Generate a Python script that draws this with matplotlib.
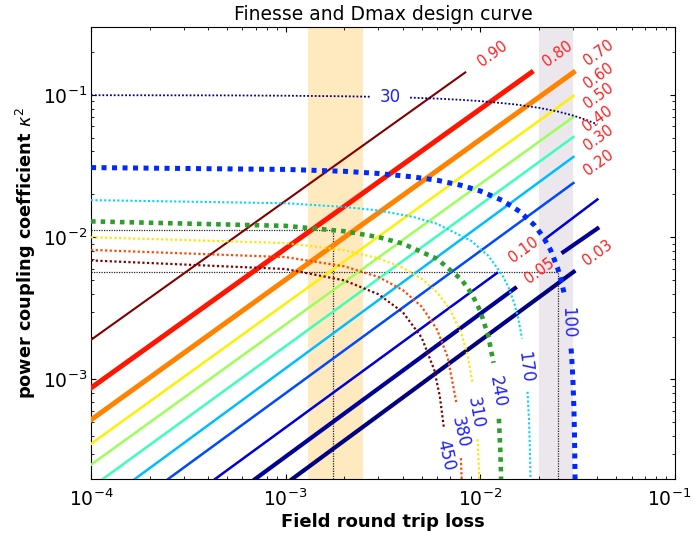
import numpy as np
import matplotlib
matplotlib.use('Agg')
from matplotlib import pyplot as plt
from matplotlib import cm
from matplotlib.transforms import ScaledTranslation

nan = np.nan

# Dmax contour lines : power coupling (kappa^2) vs field round trip loss
dmax_levels = [0.90, 0.80, 0.70, 0.60, 0.50, 0.40, 0.30, 0.20, 0.10, 0.05, 0.03]
dmax_x = [
    [1e-4, 8.37e-3],
    [1e-4, 1.83e-2],
    [1e-4, 3.01e-2],
    [1e-4, 3.01e-2],
    [1e-4, 3.01e-2],
    [1.15e-4, 3.01e-2],
    [1.68e-4, 3.01e-2],
    [2.49e-4, 3.01e-2],
    [4.34e-4, 1.22e-2, nan, 2.15e-2, 4.0e-2],
    [6.97e-4, 1.51e-2, nan, 2.67e-2, 4.0e-2],
    [1.08e-3, 3.02e-2],
]
dmax_y = [
    [1.90e-3, 0.1435],
    [8.73e-4, 0.1435],
    [5.21e-4, 0.1435],
    [3.53e-4, 0.098],
    [2.52e-4, 0.0699],
    [2.0e-4, 0.0505],
    [2.0e-4, 0.0366],
    [2.0e-4, 0.0240],
    [2.0e-4, 5.6e-3, nan, 9.7e-3, 1.84e-2],
    [2.0e-4, 4.38e-3, nan, 7.85e-3, 1.15e-2],
    [2.0e-4, 5.71e-3],
]

# Finesse contour lines (gaps = inline labels)
finesse_levels = [30, 100, 170, 240, 310, 380, 450]
finesse_x = [
    [1e-4, 5e-4, 1e-3, 2e-3, 2.72e-3, nan, 4.36e-3, 6e-3, 8e-3, 1e-2, 1.5e-2, 2e-2, 2.5e-2, 3e-2, 3.5e-2, 4e-2],
    [1e-4, 1e-3, 2e-3, 3e-3, 4.5e-3, 6e-3, 8e-3, 1e-2, 1.3e-2, 1.6e-2, 1.9e-2, 2.1e-2, 2.3e-2, 2.5e-2, 2.6e-2, 2.7e-2,
     nan, 2.93e-2, 2.97e-2, 3.0e-2, 3.03e-2, 3.05e-2, 3.07e-2, 3.08e-2],
    [1e-4, 1e-3, 2e-3, 3e-3, 4.5e-3, 6e-3, 9e-3, 1.1e-2, 1.3e-2, 1.4e-2, 1.5e-2, 1.57e-2, 1.64e-2,
     nan, 1.75e-2, 1.78e-2, 1.80e-2, 1.81e-2, 1.82e-2],
    [1e-4, 1e-3, 2e-3, 3e-3, 4e-3, 6e-3, 8e-3, 9e-3, 1.0e-2, 1.1e-2, 1.17e-2, nan, 1.247e-2, 1.27e-2, 1.28e-2, 1.29e-2],
    [1e-4, 1e-3, 2e-3, 3e-3, 4e-3, 5e-3, 6e-3, 7e-3, 8e-3, 8.6e-3, 9.14e-3, nan, 9.7e-3, 9.85e-3, 9.95e-3],
    [1e-4, 1e-3, 2e-3, 3e-3, 4e-3, 5e-3, 6e-3, 6.8e-3, 7.55e-3, nan, 7.95e-3, 8.05e-3, 8.15e-3],
    [1e-4, 1e-3, 2e-3, 3e-3, 4e-3, 5e-3, 5.8e-3, 6.2e-3, 6.5e-3],
]
finesse_y = [
    [0.0993, 0.0990, 0.0985, 0.0976, 0.0969, nan, 0.0955, 0.0940, 0.0921, 0.0903, 0.0857, 0.0810, 0.0763, 0.0715, 0.0667, 0.0619],
    [0.0308, 0.0299, 0.0290, 0.0280, 0.0265, 0.0251, 0.0231, 0.0211, 0.0181, 0.0151, 0.0121, 0.0101, 0.0081, 0.00605, 0.00503, 0.00401,
     nan, 1.65e-3, 1.24e-3, 9.3e-4, 6.2e-4, 4.1e-4, 2.1e-4, 1.0e-4],
    [0.0182, 0.0173, 0.0163, 0.0154, 0.0139, 0.0124, 0.0094, 0.0074, 0.0054, 0.0044, 0.0034, 0.00265, 0.00194,
     nan, 8.2e-4, 5.2e-4, 3.2e-4, 2.2e-4, 1.1e-4],
    [0.0129, 0.0120, 0.0110, 0.0100, 0.0090, 0.00704, 0.00504, 0.00404, 0.00303, 0.00202, 0.00131, nan, 5.3e-4, 3.0e-4, 2.0e-4, 1.0e-4],
    [0.00998, 0.00909, 0.00810, 0.00710, 0.00610, 0.00510, 0.00410, 0.00310, 0.00210, 0.00149, 9.4e-4, nan, 3.8e-4, 2.3e-4, 1.3e-4],
    [0.00813, 0.00724, 0.00624, 0.00525, 0.00425, 0.00325, 0.00224, 0.00144, 6.8e-4, nan, 2.8e-4, 1.8e-4, 8e-5],
    [0.00686, 0.00597, 0.00497, 0.00397, 0.00297, 0.00197, 0.00117, 7.6e-4, 4.6e-4],
]

# design points (loss, kappa^2)
design_loss = [1.75e-3, 2.52e-2]
design_kappa2 = [1.12e-2, 5.65e-3]

# highlighted loss bands
band_low = [1.3e-3, 2.5e-3]
band_high = [2.0e-2, 3.0e-2]

# label positions
dmax_lab_x = [0.01153, 0.0249, 0.0405, 0.0405, 0.0405, 0.0403, 0.0405, 0.0405, 0.01664, 0.0201, 0.0400]
dmax_lab_y = [0.195, 0.195, 0.198, 0.137, 0.099, 0.0684, 0.0495, 0.0336, 8.1e-3, 5.78e-3, 7.72e-3]
fin_lab_x = [3.44e-3, 0.0283, 0.0170, 0.01222, 9.4e-3, 7.88e-3, 6.61e-3]
fin_lab_y = [0.0958, 2.49e-3, 1.22e-3, 8.18e-4, 5.83e-4, 4.23e-4, 2.96e-4]
fin_lab_rot = [0, -88, -83, -80, -80, -77, -77]

x_ticks = [1e-4, 1e-3, 1e-2, 1e-1]

dmax_lw = [1.5, 3.6, 3.6, 1.8, 1.8, 1.8, 1.8, 1.8, 1.8, 3.0, 3.0]
fin_lw = [1.3, 3.6, 1.5, 3.3, 1.6, 1.6, 1.6]

fig = plt.figure(figsize=(6.95, 5.37), dpi=100)
ax = fig.add_axes([0.131, 0.108, 0.840, 0.842])
ax.set_xscale('log')
ax.set_yscale('log')

ax.axvspan(band_low[0], band_low[1], color='#ffe9bf', zorder=0, lw=0)
ax.axvspan(band_high[0], band_high[1], color='#ebe7ec', zorder=0, lw=0)

# Dmax lines
norm_d = plt.Normalize(min(dmax_levels), max(dmax_levels))
for lev, xs, ys, lw in zip(dmax_levels, dmax_x, dmax_y, dmax_lw):
    ax.plot(xs, ys, color=cm.jet(norm_d(lev)), lw=lw, zorder=3)
for lev, lx, ly in zip(dmax_levels, dmax_lab_x, dmax_lab_y):
    ax.text(lx, ly, '%.2f' % lev, color='#ff2020', fontsize=10.5, rotation=36,
            ha='center', va='center', rotation_mode='anchor', zorder=5)

# Finesse curves
norm_f = plt.Normalize(min(finesse_levels), max(finesse_levels))
for lev, xs, ys, lw in zip(finesse_levels, finesse_x, finesse_y, fin_lw):
    c = cm.jet(norm_f(lev))
    if lev == 240:
        c = '#2e9e2e'
    ax.plot(xs, ys, color=c, lw=lw, linestyle=(0, (1, 1.1)), zorder=4)
for lev, lx, ly, rot in zip(finesse_levels, fin_lab_x, fin_lab_y, fin_lab_rot):
    ax.text(lx, ly, '%d' % lev, color='#2020ff', fontsize=12, rotation=rot,
            ha='center', va='center', rotation_mode='anchor', zorder=5)

# design point guide lines
for lx, ky in zip(design_loss, design_kappa2):
    ax.plot([1e-4, lx], [ky, ky], color='0.15', lw=0.9, linestyle=(0, (1, 1)), zorder=2)
    ax.plot([lx, lx], [2e-4, ky], color='0.15', lw=0.9, linestyle=(0, (1, 1)), zorder=2)

ax.set_xlim(1e-4, 1e-1)
ax.set_ylim(2e-4, 0.3)
ax.set_xticks(x_ticks)
ax.tick_params(which='both', direction='in', top=True, right=True)
ax.tick_params(which='major', length=3.5, labelsize=13.5)
ax.tick_params(which='minor', length=2)
ax.tick_params(axis='x', which='major', pad=7)
ax.tick_params(axis='y', which='major', pad=2.5)

# nudge the last x tick label so it stays inside the figure
last = ax.xaxis.get_major_ticks()[-1].label1
last.set_transform(last.get_transform() + ScaledTranslation(-0.06, 0, fig.dpi_scale_trans))

ax.set_title('Finesse and Dmax design curve', fontsize=13.5, pad=5)
ax.set_xlabel('Field round trip loss', fontsize=13, fontweight='bold', labelpad=2)
ax.set_ylabel('power coupling coefficient $\\kappa^2$', fontsize=12.8, fontweight='bold', labelpad=4)

fig.savefig('out.png', dpi=100)
